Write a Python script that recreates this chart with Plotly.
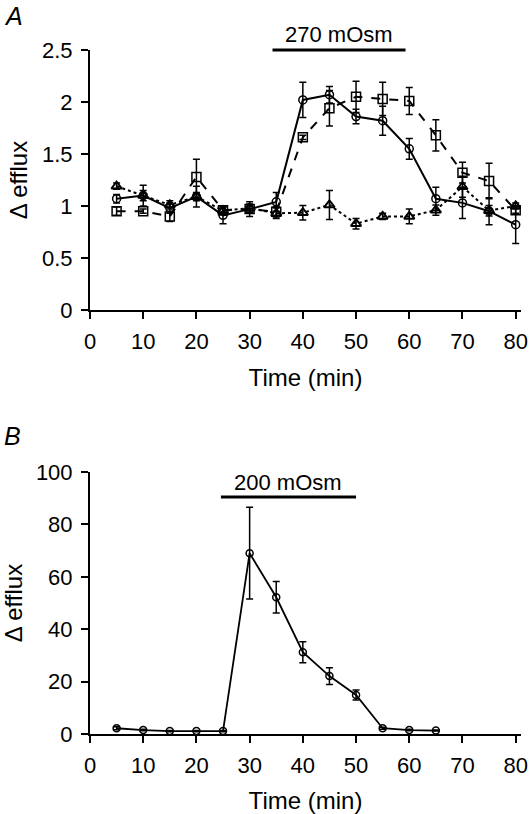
import plotly.graph_objects as go

# ---------------- data ----------------
time_a = [5, 10, 15, 20, 25, 30, 35, 40, 45, 50, 55, 60, 65, 70, 75, 80]
circle_a = [1.07, 1.10, 0.98, 1.09, 0.91, 0.97, 1.04, 2.02, 2.07, 1.86, 1.82, 1.55, 1.07, 1.03, 0.95, 0.82]
circle_a_err = [0.04, 0.10, 0.05, 0.10, 0.08, 0.07, 0.09, 0.17, 0.08, 0.07, 0.14, 0.10, 0.11, 0.15, 0.13, 0.18]
square_a = [0.95, 0.95, 0.90, 1.28, 0.96, 0.97, 0.945, 1.66, 1.94, 2.05, 2.03, 2.01, 1.68, 1.32, 1.24, 0.96]
square_a_err = [0.04, 0.02, 0.05, 0.17, 0.03, 0.03, 0.05, 0.02, 0.17, 0.15, 0.16, 0.13, 0.15, 0.10, 0.17, 0.03]
tri_a = [1.19, 1.10, 1.01, 1.09, 0.955, 0.98, 0.93, 0.935, 1.01, 0.83, 0.90, 0.90, 0.96, 1.185, 0.955, 1.00]
tri_a_err = [0.03, 0.05, 0.04, 0.04, 0.04, 0.04, 0.05, 0.07, 0.14, 0.05, 0.03, 0.07, 0.05, 0.10, 0.05, 0.03]

time_b = [5, 10, 15, 20, 25, 30, 35, 40, 45, 50, 55, 60, 65]
circle_b = [2.2, 1.5, 1.1, 1.1, 1.1, 69.0, 52.2, 31.2, 22.1, 14.9, 2.2, 1.5, 1.3]
circle_b_err = [0.6, 0.3, 0.2, 0.2, 0.2, 17.5, 6.0, 4.0, 3.2, 1.9, 0.4, 0.3, 0.2]

bar_a = [34.3, 59.3]   # 270 mOsm period
bar_a_level = 2.5
bar_b = [24.6, 50.0]   # 200 mOsm period
bar_b_level = 90.5

x_ticks = [0, 10, 20, 30, 40, 50, 60, 70, 80]
ya_ticks = [0, 0.5, 1, 1.5, 2, 2.5]
ya_labels = ["0", "0.5", "1", "1.5", "2", "2.5"]
yb_ticks = [0, 20, 40, 60, 80, 100]

XRANGE = [0, 81]
YA_RANGE = [0, 2.5]
YB_RANGE = [0, 100]

FONT = "Liberation Sans, Arial, sans-serif"

fig = go.Figure()

def err(arr):
    return dict(type="data", array=arr, color="black", thickness=1.5, width=3.5, visible=True)

fig.add_trace(go.Scatter(
    x=time_a, y=tri_a, error_y=err(tri_a_err), mode="lines+markers",
    line=dict(color="black", width=2, dash="dot"),
    marker=dict(symbol="triangle-up-open", size=9, color="black", line=dict(width=2, color="black")),
    xaxis="x", yaxis="y", showlegend=False))
fig.add_trace(go.Scatter(
    x=time_a, y=square_a, error_y=err(square_a_err), mode="lines+markers",
    line=dict(color="black", width=2, dash="dash"),
    marker=dict(symbol="square-open", size=9, color="black", line=dict(width=1.5, color="black")),
    xaxis="x", yaxis="y", showlegend=False))
fig.add_trace(go.Scatter(
    x=time_a, y=circle_a, error_y=err(circle_a_err), mode="lines+markers",
    line=dict(color="black", width=2),
    marker=dict(symbol="circle-open", size=8, color="black", line=dict(width=1.5, color="black")),
    xaxis="x", yaxis="y", showlegend=False))

fig.add_trace(go.Scatter(
    x=time_b, y=circle_b, error_y=err(circle_b_err), mode="lines+markers",
    line=dict(color="black", width=1.8),
    marker=dict(symbol="circle-open", size=7, color="black", line=dict(width=1.5, color="black")),
    xaxis="x2", yaxis="y2", showlegend=False))

dom_a = [1 - 310 / 814, 1 - 50 / 814]
dom_b = [1 - 734 / 814, 1 - 472 / 814]

common_x = dict(range=XRANGE, tickvals=x_ticks, showline=True, linecolor="black", linewidth=2,
                ticks="outside", ticklen=7, tickwidth=2, tickcolor="black", showgrid=False,
                zeroline=False, automargin=False, ticklabelstandoff=4,
                tickfont=dict(family=FONT, size=22, color="black"),
                title=dict(text="Time (min)", font=dict(family=FONT, size=24, color="black"), standoff=16))
common_y = dict(showline=True, linecolor="black", linewidth=2, ticks="outside", ticklen=7,
                tickwidth=2, tickcolor="black", showgrid=False, zeroline=False, automargin=False,
                ticklabelstandoff=4,
                tickfont=dict(family=FONT, size=22, color="black"),
                title=dict(text="Δ efflux", font=dict(family=FONT, size=24, color="black"), standoff=8))

fig.update_layout(
    width=529, height=814,
    margin=dict(l=90, r=8, t=0, b=0),
    paper_bgcolor="white", plot_bgcolor="white",
    xaxis=dict(common_x, anchor="y"),
    yaxis=dict(common_y, domain=dom_a, range=YA_RANGE, tickvals=ya_ticks, ticktext=ya_labels, anchor="x"),
    xaxis2=dict(common_x, anchor="y2"),
    yaxis2=dict(common_y, domain=dom_b, range=YB_RANGE, tickvals=yb_ticks, anchor="x2"),
)

def xfrac(v):
    return (v - XRANGE[0]) / (XRANGE[1] - XRANGE[0])

def yfrac(v, rng):
    return (v - rng[0]) / (rng[1] - rng[0])

# stimulus bars
fig.add_shape(type="line", xref="x domain", yref="y domain",
              x0=xfrac(bar_a[0]), x1=xfrac(bar_a[1]),
              y0=yfrac(bar_a_level, YA_RANGE), y1=yfrac(bar_a_level, YA_RANGE),
              line=dict(color="black", width=3))
fig.add_shape(type="line", xref="x2 domain", yref="y2 domain",
              x0=xfrac(bar_b[0]), x1=xfrac(bar_b[1]),
              y0=yfrac(bar_b_level, YB_RANGE), y1=yfrac(bar_b_level, YB_RANGE),
              line=dict(color="black", width=3))

fig.add_annotation(xref="x domain", yref="y domain", x=xfrac(sum(bar_a) / 2),
                   y=yfrac(bar_a_level, YA_RANGE), yanchor="bottom", yshift=1, showarrow=False,
                   text="270 mOsm", font=dict(family=FONT, size=22, color="black"))
fig.add_annotation(xref="x2 domain", yref="y2 domain", x=xfrac(sum(bar_b) / 2),
                   y=yfrac(bar_b_level, YB_RANGE), yanchor="bottom", yshift=0, showarrow=False,
                   text="200 mOsm", font=dict(family=FONT, size=22, color="black"))

# panel letters
fig.add_annotation(xref="paper", yref="paper", x=-88 / 431, y=1.0, xanchor="left", yanchor="top",
                   showarrow=False, text="<i>A</i>", font=dict(family=FONT, size=25, color="black"))
fig.add_annotation(xref="paper", yref="paper", x=-88 / 431, y=1 - 420 / 814, xanchor="left", yanchor="top",
                   showarrow=False, text="<i>B</i>", font=dict(family=FONT, size=25, color="black"))

fig.write_html("out.html", config={"displayModeBar": False},
               post_script="document.body.style.margin='0px';document.body.style.overflow='hidden';")
